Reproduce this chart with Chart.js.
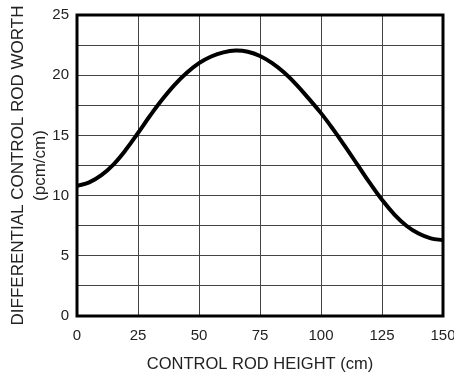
<!DOCTYPE html>
<html>
<head>
<meta charset="utf-8">
<script src="https://cdn.jsdelivr.net/npm/chart.js@4"></script>
<style>
  html, body { margin: 0; padding: 0; background: #ffffff; }
  #wrap { width: 454px; height: 376px; }
</style>
</head>
<body>
<div id="wrap"><canvas id="c" width="454" height="376"></canvas></div>
<script>
// Control rod height (cm)
const heights = [0, 5, 10, 15, 20, 25, 30, 35, 40, 45, 50, 55, 60, 65, 70, 75, 80, 85, 90, 95, 100, 105, 110, 115, 120, 125, 130, 135, 140, 145, 150];
// Differential control rod worth (pcm/cm)
const worth = [10.8, 11.1, 11.7, 12.6, 13.8, 15.2, 16.65, 18.0, 19.2, 20.2, 21.0, 21.55, 21.9, 22.05, 21.95, 21.6, 21.0, 20.2, 19.2, 18.05, 16.85, 15.5, 14.05, 12.55, 11.05, 9.65, 8.45, 7.5, 6.85, 6.45, 6.3];
const xTicks = [0, 25, 50, 75, 100, 125, 150];
const yTicks = [0, 5, 10, 15, 20, 25];
const xTitle = 'CONTROL ROD HEIGHT (cm)';
const yTitle = ['DIFFERENTIAL CONTROL ROD WORTH', '(pcm/cm)'];

const FONT = "'Liberation Sans', Arial, sans-serif";
const points = heights.map((h, i) => ({ x: h, y: worth[i] }));

const frame = {
  id: 'frame',
  afterDatasetsDraw(chart) {
    const a = chart.chartArea, ctx = chart.ctx;
    ctx.save();
    ctx.strokeStyle = '#000';
    ctx.lineWidth = 3;
    ctx.strokeRect(a.left, a.top, a.right - a.left, a.bottom - a.top);
    ctx.restore();
  }
};

new Chart(document.getElementById('c'), {
  type: 'line',
  data: {
    datasets: [{
      data: points,
      borderColor: '#000',
      borderWidth: 4,
      pointRadius: 0,
      fill: false,
      tension: 0.4,
      clip: false
    }]
  },
  options: {
    responsive: false,
    animation: false,
    devicePixelRatio: 1,
    layout: { padding: { top: 15, right: 11, left: 0, bottom: 0 } },
    plugins: { legend: { display: false }, tooltip: { enabled: false } },
    scales: {
      x: {
        type: 'linear',
        min: 0, max: 150,
        afterBuildTicks(scale) { scale.ticks = xTicks.map(v => ({ value: v })); },
        afterFit(scale) { scale.height = 60; scale.paddingRight = 0; scale.paddingLeft = 0; },
        grid: { color: '#444', lineWidth: 1, drawTicks: false },
        border: { display: false },
        ticks: { color: '#222', font: { family: FONT, size: 15 }, padding: 11, maxRotation: 0 },
        title: { display: true, text: xTitle, color: '#222', font: { family: FONT, size: 16.5 }, padding: { top: 0, bottom: 2 } }
      },
      y: {
        min: 0, max: 25,
        afterBuildTicks(scale) {
          const t = [];
          for (let v = 0; v <= 25; v += 2.5) t.push({ value: v });
          scale.ticks = t;
        },
        afterFit(scale) { scale.width = 77; scale.paddingTop = 0; scale.paddingBottom = 0; },
        grid: { color: '#444', lineWidth: 1, drawTicks: false },
        border: { display: false },
        ticks: {
          color: '#222', font: { family: FONT, size: 15 }, padding: 8, autoSkip: false,
          callback: (v) => yTicks.includes(v) ? String(v) : ''
        },
        title: { display: true, text: yTitle, color: '#222', font: { family: FONT, size: 17, lineHeight: 1.3 }, padding: { top: 7, bottom: 0 } }
      }
    }
  },
  plugins: [frame]
});
</script>
</body>
</html>
